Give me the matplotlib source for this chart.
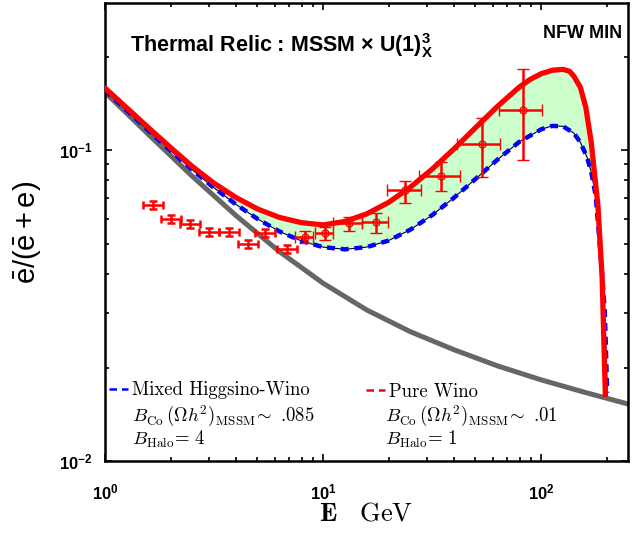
import numpy as np
import matplotlib
matplotlib.use("Agg")
import matplotlib.pyplot as plt
from matplotlib.lines import Line2D

# --- fonts ---
plt.rcParams['font.family'] = ['Liberation Sans', 'DejaVu Sans']
plt.rcParams['mathtext.fontset'] = 'custom'
plt.rcParams['mathtext.rm'] = 'Liberation Sans'
plt.rcParams['mathtext.it'] = 'Liberation Sans:italic'
plt.rcParams['mathtext.bf'] = 'Liberation Sans:bold'
plt.rcParams['mathtext.sf'] = 'Liberation Sans'

# --- curves ---
bg_E = [1, 1.585, 2.512, 3.981, 6.310, 10, 15.85, 25.12, 39.81, 63.10, 100,
        158.5, 251.2]
bg_y = [0.1536, 0.1123, 0.0825, 0.0617, 0.0472, 0.03736, 0.03065, 0.02609,
        0.02283, 0.02025, 0.01826, 0.01665, 0.01526]

wino_E = [1, 1.259, 1.585, 1.995, 2.512, 3.162, 3.981, 5.012, 6.310, 7.943,
          10, 12.59, 15.85, 19.95, 25.12, 31.62, 39.81, 50.12, 63.10, 79.43,
          89.13, 100, 112.2, 125.9, 134.9, 141.3, 151.4, 160.3, 169.8, 182.0,
          190.5, 197.0]
wino_y = [0.1585, 0.1368, 0.1180, 0.1021, 0.0887, 0.0783, 0.0705, 0.0647,
          0.0608, 0.0585, 0.0575, 0.0590, 0.0624, 0.0679, 0.0760, 0.0869,
          0.1009, 0.1183, 0.1384, 0.1596, 0.1690, 0.1762, 0.1807, 0.1820,
          0.1795, 0.1730, 0.1592, 0.1374, 0.1059, 0.0668, 0.0389, 0.0164]

mixed_E = [1, 1.259, 1.585, 1.995, 2.512, 3.162, 3.981, 5.012, 6.310, 7.943,
           10, 12.59, 15.85, 19.95, 25.12, 31.62, 39.81, 50.12, 63.10, 79.43,
           100, 112.2, 125.9, 141.3, 151.4, 162.2, 169.8, 177.8, 184.1, 190.5,
           195.9, 200.9]
mixed_y = [0.1560, 0.1343, 0.1156, 0.0998, 0.0865, 0.0757, 0.0670, 0.0601,
           0.0548, 0.0511, 0.0488, 0.0480, 0.0488, 0.0512, 0.0555, 0.0618,
           0.0703, 0.0809, 0.0933, 0.1064, 0.1167, 0.1197, 0.1194, 0.1135,
           0.1059, 0.0951, 0.0851, 0.0716, 0.0537, 0.0398, 0.0302, 0.0166]

# --- data points, low energy ---
lo_E = [1.66, 2.0, 2.45, 3.01, 3.72, 4.54, 5.42, 6.81]
lo_Elo = [1.50, 1.80, 2.21, 2.71, 3.35, 4.09, 4.88, 6.13]
lo_Ehi = [1.84, 2.22, 2.72, 3.34, 4.13, 5.04, 6.02, 7.56]
lo_y = [0.0665, 0.060, 0.0578, 0.0545, 0.0545, 0.0498, 0.0540, 0.0480]
lo_ylo = [0.0645, 0.0582, 0.0561, 0.0529, 0.0529, 0.0483, 0.0524, 0.0466]
lo_yhi = [0.0685, 0.0618, 0.0595, 0.0561, 0.0561, 0.0513, 0.0556, 0.0494]

# --- data points, high energy ---
hi_E = [8.27, 10.2, 13.2, 17.5, 23.8, 34.8, 53.5, 82.4]
hi_Elo = [7.44, 9.19, 11.1, 15.1, 19.7, 27.6, 41.2, 64.2]
hi_Ehi = [9.0, 11.1, 15.1, 19.9, 28.2, 42.5, 64.9, 101]
hi_y = [0.0525, 0.0541, 0.0582, 0.0587, 0.0743, 0.0825, 0.1048, 0.135]
hi_ylo = [0.0504, 0.0514, 0.0549, 0.0542, 0.0676, 0.0738, 0.0819, 0.0927]
hi_yhi = [0.0549, 0.0565, 0.0609, 0.0629, 0.0795, 0.0915, 0.127, 0.183]


def errs(v, lo, hi):
    v = np.array(v)
    return [v - np.array(lo), np.array(hi) - v]


fig = plt.figure(figsize=(6.44, 5.35), dpi=100)
ax = fig.add_axes([0.163, 0.138, 0.812, 0.856])
ax.set_xscale('log')
ax.set_yscale('log')

# shaded band between the two models
ax.fill(np.concatenate([wino_E, mixed_E[::-1]]),
        np.concatenate([wino_y, mixed_y[::-1]]),
        color='#ccffcc', lw=0, zorder=1)

ax.plot(bg_E, bg_y, color='#666666', lw=3.6, zorder=2, solid_capstyle='butt')
ax.plot(mixed_E, mixed_y, color='black', lw=0.8, zorder=3)
ax.plot(mixed_E, mixed_y, color='blue', lw=3.2, ls=(0, (1.8, 1.3)), zorder=4)
ax.plot(wino_E, wino_y, color='red', lw=3.8, zorder=5)

# data
ax.errorbar(lo_E, lo_y, xerr=errs(lo_E, lo_Elo, lo_Ehi),
            yerr=errs(lo_y, lo_ylo, lo_yhi), fmt='none', ecolor='red',
            elinewidth=1.8, capsize=3, capthick=1.8, zorder=6)
ax.errorbar(hi_E, hi_y, xerr=errs(hi_E, hi_Elo, hi_Ehi),
            yerr=errs(hi_y, hi_ylo, hi_yhi), fmt='o', color='red', mfc='none',
            ms=5, mew=1.0, elinewidth=1.8, capsize=4, capthick=1.8, zorder=6)

ax.set_xlim(1, 250)
ax.set_ylim(0.01, 0.297)

# axes styling
for s in ax.spines.values():
    s.set_linewidth(1.8)
ax.tick_params(which='both', direction='in', top=True, right=True, width=1.2)
ax.tick_params(which='major', length=5)
ax.tick_params(which='minor', length=3)
ax.tick_params(axis='x', which='major', pad=15)
ax.tick_params(axis='y', which='major', pad=9)
for lab in ax.get_xticklabels() + ax.get_yticklabels():
    lab.set_fontsize(12)
    lab.set_fontweight('bold')

ax.set_ylabel(r'$\bar{\mathrm{e}}/(\bar{\mathrm{e}}+\mathrm{e})$', fontsize=21)
ax.yaxis.set_label_coords(-0.119, 0.50)
ax.set_xlabel(r'$\mathbf{E}\quad\mathrm{GeV}$', fontsize=19, math_fontfamily='cm')
ax.xaxis.set_label_coords(0.5, -0.088)

ax.text(0.048, 0.908, 'Thermal Relic : MSSM \u00d7 ' + r'$\mathdefault{U(1)_{X}^{3}}$',
        transform=ax.transAxes, fontsize=15.5, fontweight='bold', va='center')
ax.text(0.9885, 0.934, 'NFW MIN', transform=ax.transAxes, fontsize=13,
        fontweight='bold', ha='right', va='center')

# legend
h_mixed = Line2D([], [], color='blue', ls='--', lw=1.8, dashes=(3, 2))
h_wino = Line2D([], [], color='red', ls='--', lw=1.8, dashes=(3, 2))
leg1 = ax.legend([h_mixed], ['Mixed Higgsino-Wino'], loc='center left',
                 bbox_to_anchor=(0.008, 0.155), frameon=False, borderpad=0,
                 borderaxespad=0, handlelength=1.0, handletextpad=0.2,
                 prop={'family': 'cmr10', 'size': 13.5})
ax.add_artist(leg1)
ax.legend([h_wino], ['Pure Wino'], loc='center left',
          bbox_to_anchor=(0.500, 0.152), frameon=False, borderpad=0,
          borderaxespad=0, handlelength=1.0, handletextpad=0.2,
          prop={'family': 'cmr10', 'size': 13.5})

notes = [(0.0516, 0.097, r'$B_{\rm Co}\,(\Omega h^2)_{\rm MSSM}\!\sim$ .085'),
         (0.0516, 0.048, r'$B_{\rm Halo}$= 4'),
         (0.535, 0.097, r'$B_{\rm Co}\,(\Omega h^2)_{\rm MSSM}\!\sim$ .01'),
         (0.535, 0.048, r'$B_{\rm Halo}$= 1')]
for x, y, s in notes:
    ax.text(x, y, s, transform=ax.transAxes, fontsize=13.5, family='cmr10',
            math_fontfamily='cm', va='center')

fig.savefig('out.png', dpi=100)
